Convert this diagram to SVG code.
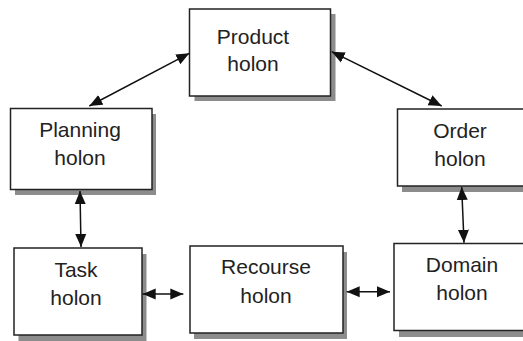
<svg xmlns="http://www.w3.org/2000/svg" width="523" height="341" viewBox="0 0 523 341">
<style>
.box{fill:#fff;stroke:#222;stroke-width:1.5}
.sh{fill:#8c8c8c}
.t{font-family:"Liberation Sans",Arial,sans-serif;font-size:21px;fill:#222;text-anchor:middle}
.c{stroke:#111;stroke-width:1.5;fill:none;marker-start:url(#ah);marker-end:url(#ah)}
</style>
<defs>
<marker id="ah" markerUnits="userSpaceOnUse" markerWidth="14" markerHeight="12" refX="13" refY="5.5" orient="auto-start-reverse" viewBox="0 0 14 11">
<path d="M0,0 L13,5.5 L0,11 z" fill="#111"/>
</marker>
</defs>
<rect width="523" height="341" fill="#fff"/>
<g id="product">
<rect class="sh" x="194.5" y="14" width="141" height="87"/>
<rect class="box" x="189.5" y="9" width="141" height="87"/>
<text class="t" x="253" y="44">Product</text>
<text class="t" x="253" y="71">holon</text>
</g>
<g id="planning">
<rect class="sh" x="15" y="114" width="141" height="81"/>
<rect class="box" x="10.5" y="108.5" width="141.5" height="81"/>
<text class="t" x="80" y="137">Planning</text>
<text class="t" x="80" y="165">holon</text>
</g>
<g id="order">
<rect class="sh" x="402" y="115" width="140" height="77"/>
<rect class="box" x="397.5" y="109" width="140" height="77"/>
<text class="t" x="460" y="138">Order</text>
<text class="t" x="460" y="166">holon</text>
</g>
<g id="task">
<rect class="sh" x="18.5" y="254" width="128" height="87"/>
<rect class="box" x="14" y="248" width="128" height="87"/>
<text class="t" x="76" y="277">Task</text>
<text class="t" x="76" y="305">holon</text>
</g>
<g id="recourse">
<rect class="sh" x="194" y="252" width="153" height="87"/>
<rect class="box" x="190" y="246" width="153" height="87"/>
<text class="t" x="266" y="274">Recourse</text>
<text class="t" x="266" y="303">holon</text>
</g>
<g id="domain">
<rect class="sh" x="399" y="250" width="140" height="87"/>
<rect class="box" x="394" y="243.5" width="140" height="87"/>
<text class="t" x="462" y="272">Domain</text>
<text class="t" x="462" y="300">holon</text>
</g>
<g id="connectors">
<line class="c" x1="189.3" y1="53.3" x2="89.3" y2="106"/>
<line class="c" x1="331.7" y1="51.7" x2="441.7" y2="106"/>
<line class="c" x1="80" y1="191" x2="81" y2="247"/>
<line class="c" x1="461.7" y1="187" x2="464" y2="242.7"/>
<line class="c" x1="142.7" y1="294" x2="183.3" y2="294"/>
<line class="c" x1="346.7" y1="291.7" x2="390" y2="291.7"/>
</g>
</svg>
